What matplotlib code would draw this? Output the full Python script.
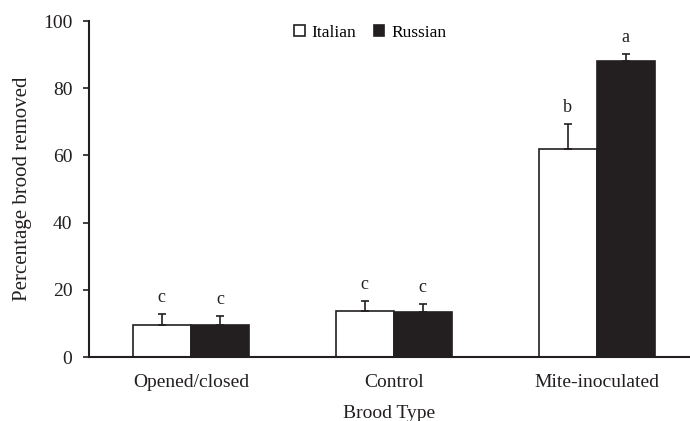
import matplotlib.pyplot as plt
import numpy as np

plt.rcParams['font.family'] = ['Liberation Serif', 'DejaVu Serif']

# percentage of brood removed, mean and SE
brood_types = ['Opened/closed', 'Control', 'Mite-inoculated']
italian = [9.5, 13.7, 61.9]
italian_se = [3.3, 3.0, 7.4]
russian = [9.5, 13.4, 88.1]
russian_se = [2.7, 2.4, 2.1]
italian_letters = ['c', 'c', 'b']
russian_letters = ['c', 'c', 'a']

ink = '#231f20'

fig = plt.figure(figsize=(6.9, 4.21), dpi=100)
ax = fig.add_axes([0.129, 0.152, 0.871, 0.798])

x = np.arange(len(brood_types))
w = 0.286

ax.bar(x - w / 2, italian, w, color='white', edgecolor=ink, linewidth=1.2,
       label='Italian', zorder=2)
ax.bar(x + w / 2, russian, w, color=ink, edgecolor=ink, linewidth=1.2,
       label='Russian', zorder=2)

# one-sided error bars
ax.errorbar(x - w / 2, italian, yerr=[np.zeros(3), italian_se], fmt='none',
            ecolor=ink, elinewidth=1.2, capsize=3, capthick=1.2, zorder=3)
ax.errorbar(x + w / 2, russian, yerr=[np.zeros(3), russian_se], fmt='none',
            ecolor=ink, elinewidth=1.2, capsize=3, capthick=1.2, zorder=3)

for i in range(len(x)):
    ax.annotate(italian_letters[i], (x[i] - w / 2, italian[i] + italian_se[i]),
                xytext=(0, 6), textcoords='offset points', ha='center',
                va='bottom', fontsize=13, color=ink)
    ax.annotate(russian_letters[i], (x[i] + w / 2, russian[i] + russian_se[i]),
                xytext=(0, 6), textcoords='offset points', ha='center',
                va='bottom', fontsize=13, color=ink)

ax.set_xlim(-0.502, 2.46)
ax.set_ylim(0, 100)
ax.set_yticks([0, 20, 40, 60, 80, 100])
ax.set_xticks(x)
ax.set_xticklabels(brood_types)
ax.tick_params(axis='x', length=0, pad=12, labelsize=14, colors=ink)
ax.tick_params(axis='y', length=4, width=1.2, pad=8, labelsize=14, colors=ink)

for side in ['top', 'right']:
    ax.spines[side].set_visible(False)
for side in ['left', 'bottom']:
    ax.spines[side].set_color(ink)
    ax.spines[side].set_linewidth(1.5)

ax.set_ylabel('Percentage brood removed', fontsize=15, color=ink, labelpad=8)
ax.set_xlabel('Brood Type', fontsize=14, color=ink, labelpad=10)

ax.legend(loc='upper center', bbox_to_anchor=(0.468, 1.035), ncol=2, frameon=False,
          fontsize=12.5, handlelength=0.6, handleheight=0.6, handletextpad=0.4,
          columnspacing=1.0)

fig.savefig('out.png', dpi=100)
